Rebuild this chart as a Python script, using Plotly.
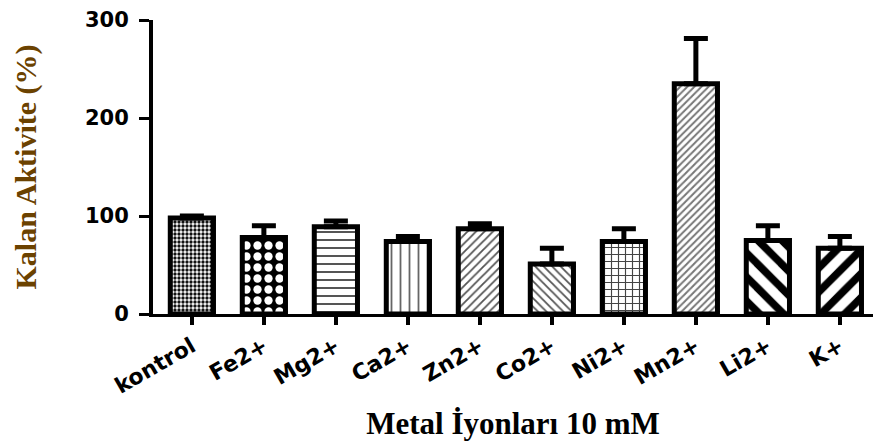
import plotly.graph_objects as go

# Residual activity after 10 mM metal ion treatment (mean, upper SD)
ions = ["kontrol", "Fe2+", "Mg2+", "Ca2+", "Zn2+", "Co2+", "Ni2+", "Mn2+", "Li2+", "K+"]
activity = [98, 78, 89, 74, 87, 51, 74, 235, 75, 67]
sd_upper = [2, 12, 6, 5, 5, 16, 13, 46, 15, 12]
y_ticks = [0, 100, 200, 300]

# Fill patterns, one per ion
pat_shape = [".", ".", "-", "|", "/", "\\", "+", "/", "\\", "/"]
pat_size = [4, 11, 8, 9, 6, 6, 7, 5, 17, 17]
pat_solid = [0.55, 0.45, 0.25, 0.2, 0.3, 0.3, 0.3, 0.4, 0.45, 0.45]
pat_fg = ["#111", "#fff", "#555", "#666", "#555", "#555", "#444", "#777", "#000", "#000"]
pat_bg = ["#fff", "#000", "#fff", "#fff", "#fff", "#fff", "#fff", "#fff", "#fff", "#fff"]

fig = go.Figure(
    go.Bar(
        x=ions,
        y=activity,
        width=0.6,
        marker=dict(
            color="white",
            line=dict(color="black", width=5),
            pattern=dict(
                shape=pat_shape,
                size=pat_size,
                solidity=pat_solid,
                fgcolor=pat_fg,
                bgcolor=pat_bg,
                fillmode="replace",
            ),
        ),
        error_y=dict(
            type="data",
            symmetric=False,
            array=sd_upper,
            arrayminus=[0] * len(sd_upper),
            color="black",
            thickness=5,
            width=12,
        ),
    )
)

ytick_font = dict(family="DejaVu Sans", size=21, color="black", weight="bold")
xtick_font = dict(family="DejaVu Sans", size=22, color="black", weight="bold")

fig.update_layout(
    width=873,
    height=444,
    margin=dict(l=153, r=0, t=20, b=130),
    plot_bgcolor="white",
    paper_bgcolor="white",
    showlegend=False,
    xaxis=dict(
        range=[-0.54, 9.46],
        showline=True,
        linecolor="black",
        linewidth=3,
        ticks="outside",
        ticklen=8,
        tickwidth=4,
        tickcolor="black",
        tickangle=-30,
        tickfont=xtick_font,
        showgrid=False,
        zeroline=False,
        title=dict(
            text="Metal İyonları 10 mM",
            font=dict(family="Liberation Serif", size=31, weight="bold", color="black"),
            standoff=15,
        ),
    ),
    yaxis=dict(
        range=[0, 300],
        tickvals=y_ticks,
        showline=True,
        linecolor="black",
        linewidth=4,
        ticks="outside",
        ticklen=10,
        tickwidth=3,
        tickcolor="black",
        ticklabelstandoff=6,
        tickfont=ytick_font,
        showgrid=False,
        zeroline=False,
        title=dict(
            text="Kalan Aktivite (%)",
            font=dict(family="Liberation Serif", size=30, weight="bold", color="#6b4200"),
            standoff=40,
        ),
    ),
)

fig.write_html("out.html")
